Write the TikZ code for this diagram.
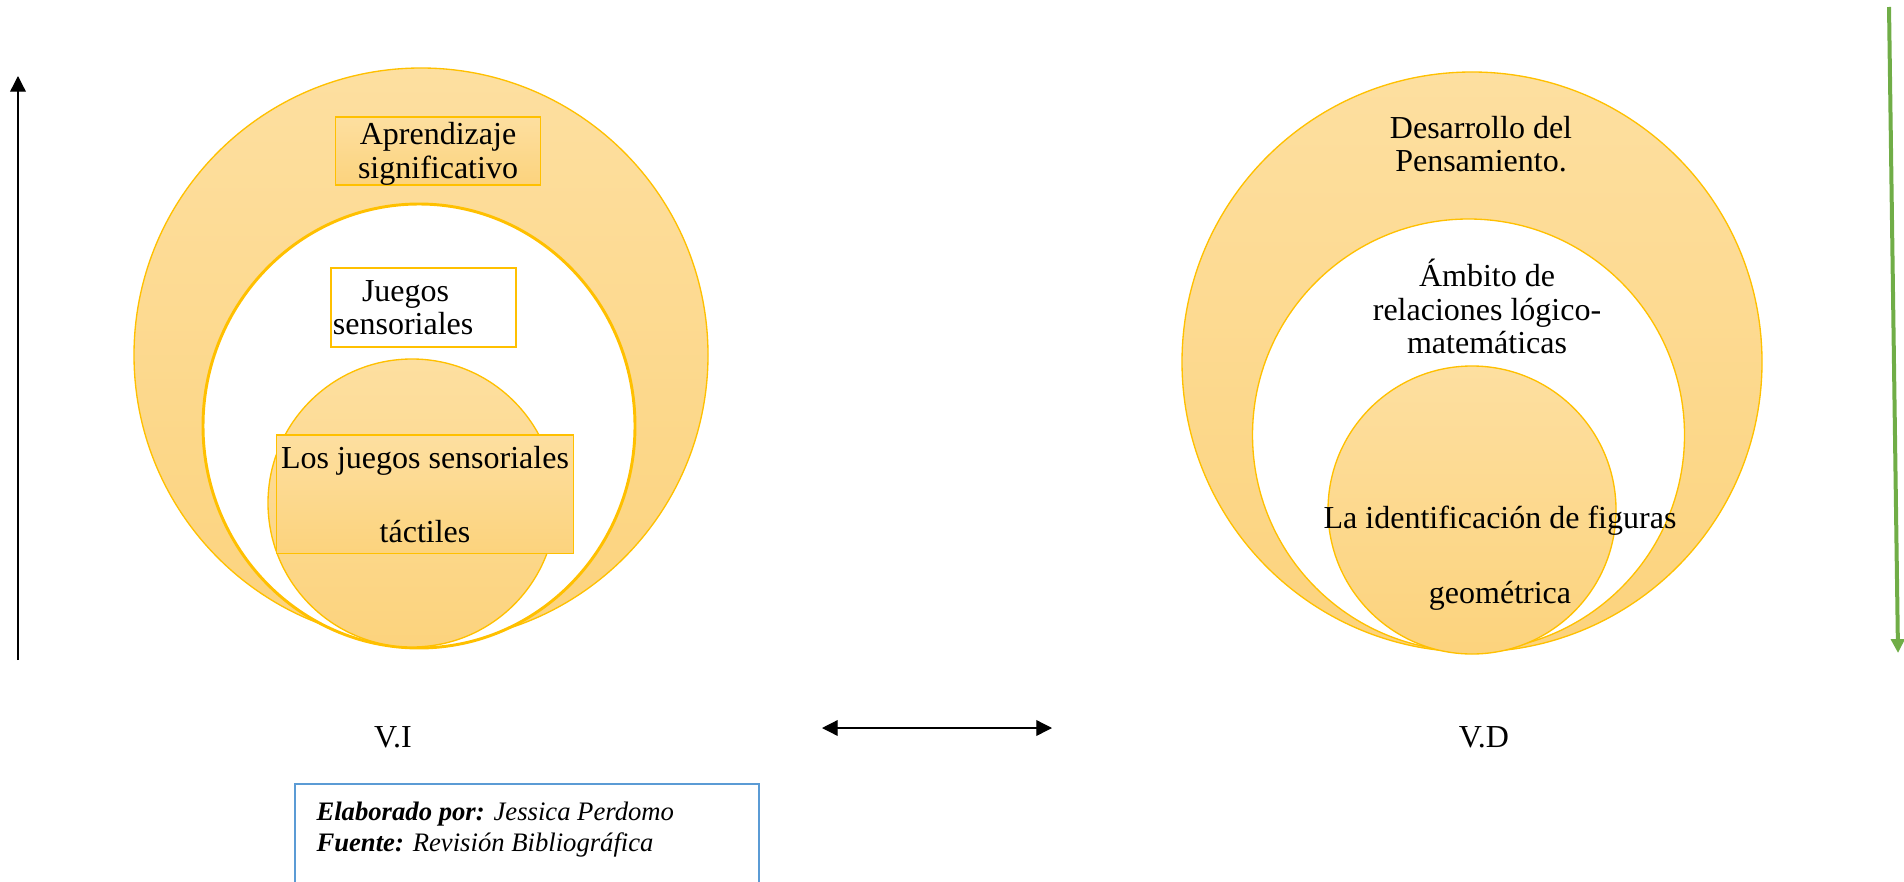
\documentclass[tikz,border=0pt]{standalone}
\usepackage{fontspec}
\setmainfont{Liberation Serif}
\usetikzlibrary{arrows.meta}
\definecolor{ringgold}{RGB}{255,192,0}
\definecolor{peachtop}{RGB}{253,223,160}
\definecolor{peachbot}{RGB}{252,211,125}
\definecolor{leafgreen}{RGB}{112,173,71}
\definecolor{framblue}{RGB}{91,155,213}
\begin{document}
\begin{tikzpicture}[x=0.375pt,y=-0.375pt,>={Triangle[width=5.9pt,length=5.9pt]},
    disc/.style={draw=ringgold,line width=0.5pt,top color=peachtop,bottom color=peachbot},
    hole/.style={draw=ringgold,fill=white},
    ringtext/.style={align=center,inner sep=0pt,font=\fontsize{12}{12.6}\selectfont},
    tagbox/.style={ringtext,draw=ringgold,line width=0.5pt,top color=peachtop,bottom color=peachbot}]
    \useasboundingbox (0,0) rectangle (1904,881);
    % V.I
    \draw[disc] (421,355) circle [radius=287];
    \draw[hole,line width=1.1pt] (419,426) circle [x radius=216,y radius=222];
    \draw[disc] (412,503) circle [radius=144];
    \node[tagbox,minimum width=76.9pt,minimum height=25.5pt] (apren) at (438,151) {\rule{0pt}{10.3pt}Aprendizaje\\significativo};
    \node[ringtext,draw=ringgold,line width=0.9pt,fill=white,align=left,text width=67.9pt,inner xsep=0.75pt,minimum height=29.6pt] (juegos) at (423.5,307.5) {\hspace*{10.9pt}Juegos\\sensoriales};
    \node[tagbox,minimum width=111.6pt,minimum height=44.5pt,font=\fontsize{12}{27.75}\selectfont] (tactil) at (425,494.3) {Los juegos sensoriales\\táctiles};
    % V.D
    \draw[disc] (1472,362) circle [radius=290];
    \draw[hole,line width=0.5pt] (1468.5,435) circle [radius=216];
    \draw[disc] (1472,510) circle [radius=144];
    \node[ringtext] (desar) at (1481,144) {Desarrollo del\\Pensamiento.};
    \node[ringtext] (ambito) at (1487,306.5) {Ámbito de\\relaciones lógico-\\matemáticas};
    \node[ringtext,font=\fontsize{12}{28}\selectfont] (ident) at (1500,558) {La identificación de figuras\\geométrica};
    % etiquetas y flechas
    \node[ringtext,anchor=base] (vi) at (393,747) {V.I};
    \node[ringtext,anchor=base] (vd) at (1484,747) {V.D};
    \coordinate (linkL) at (822,728);
    \coordinate (linkR) at (1052,728);
    \draw[<->,line width=0.5pt] (linkL) -- (linkR);
    \coordinate (riseS) at (18,660);
    \coordinate (riseN) at (18,76);
    \draw[->,line width=0.5pt] (riseS) -- (riseN);
    \coordinate (fallN) at (1889,7);
    \coordinate (fallS) at (1898,653);
    \draw[->,leafgreen,line width=1.5pt,>={Triangle[width=5pt,length=5.2pt]}] (fallN) -- (fallS);
    % fuente
    \draw[framblue,line width=1pt] (295,784) rectangle (759,900);
    \node[align=left,inner sep=0pt,anchor=north west,font=\fontsize{10}{11.9}\selectfont] (fuente) at (316,801)
        {{\bfseries\itshape Elaborado por:} \textit{Jessica Perdomo}\\{\bfseries\itshape Fuente:} \textit{Revisión Bibliográfica}};
\end{tikzpicture}
\end{document}
